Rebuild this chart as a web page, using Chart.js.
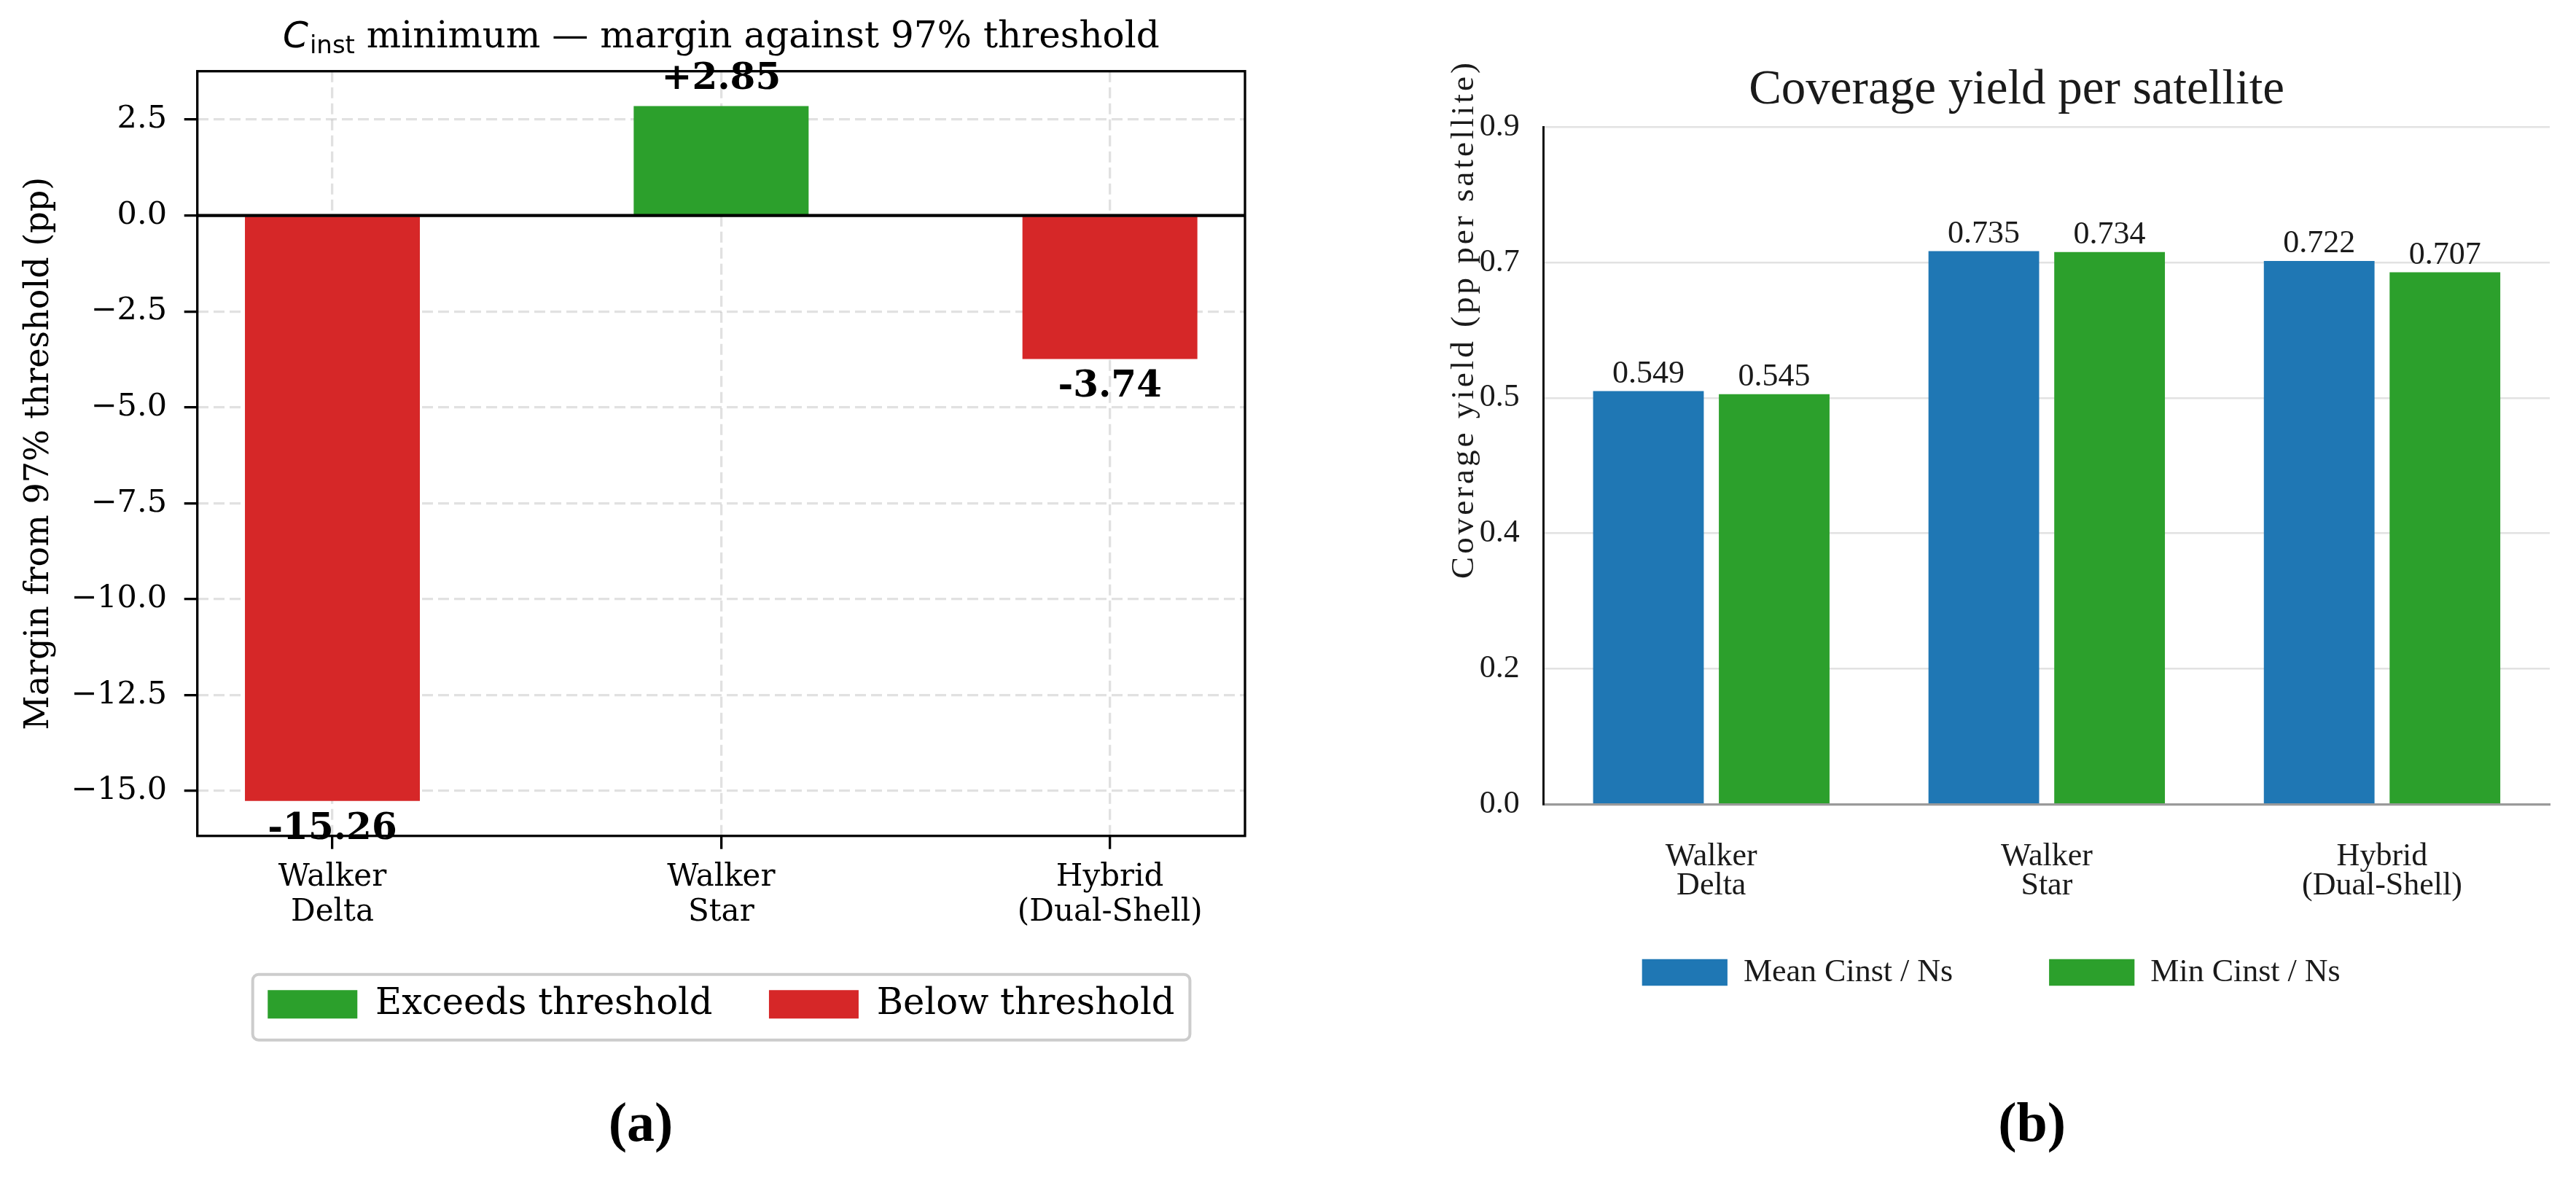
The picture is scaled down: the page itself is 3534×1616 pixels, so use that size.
<!DOCTYPE html>
<html><head><meta charset="utf-8">
<script src="https://cdn.jsdelivr.net/npm/chart.js@4.4.1/dist/chart.umd.min.js"></script>
<style>
html,body{margin:0;padding:0;background:#fff;}
body{width:3534px;height:1616px;position:relative;overflow:hidden;}
canvas{position:absolute;top:0;}
#cA{left:0;} #cB{left:1900px;}
</style></head><body>
<canvas id="cA" width="1800" height="1616"></canvas>
<canvas id="cB" width="1634" height="1616"></canvas>
<script>
// ---------- data ----------
const categories = [['Walker','Delta'], ['Walker','Star'], ['Hybrid','(Dual-Shell)']];
const marginValues = [-15.26, 2.85, -3.74];
const marginTicks = [-15, -12.5, -10, -7.5, -5, -2.5, 0, 2.5];
const marginRange = [-16.17, 3.76];
const marginLegend = ['Exceeds threshold', 'Below threshold'];
const meanYield = [0.549, 0.735, 0.722];
const minYield = [0.545, 0.734, 0.707];
const yieldTicks = [0, 0.18, 0.36, 0.54, 0.72, 0.9];
const yieldSeries = ['Mean Cinst / Ns', 'Min Cinst / Ns'];

// ---------- styles ----------
const SERIF = "'DejaVu Serif', serif";
const TIMES = "'Liberation Serif', 'Times New Roman', serif";
const GREEN = '#2ca02c', RED = '#d62728', BLUE = '#1f77b4';
const GRID_A = 'rgba(176,176,176,0.38)';
const INK = '#1a1a1a';

// ---------- left chart ----------
const LEFT_LEGEND_LIFT = 12.1;
const leftPlugin = {
  id: 'leftDecor',
  afterLayout(chart) {
    chart.legend.top -= LEFT_LEGEND_LIFT;
    chart.legend.bottom -= LEFT_LEGEND_LIFT;
  },
  afterDraw(chart) {
    const {ctx, chartArea: a, scales: {y}} = chart;
    ctx.save();
    // zero line
    const y0 = y.getPixelForValue(0);
    ctx.strokeStyle = '#000'; ctx.lineWidth = 4.2; ctx.setLineDash([]);
    ctx.beginPath(); ctx.moveTo(a.left, y0); ctx.lineTo(a.right, y0); ctx.stroke();
    // frame
    ctx.lineWidth = 3.3;
    ctx.strokeRect(a.left, a.top, a.right - a.left, a.bottom - a.top);
    // value labels
    ctx.font = `bold 50px ${SERIF}`; ctx.fillStyle = '#000';
    ctx.textAlign = 'center'; ctx.textBaseline = 'alphabetic';
    chart.getDatasetMeta(0).data.forEach((bar, i) => {
      const v = marginValues[i];
      const txt = (v >= 0 ? '+' : '') + v.toFixed(2);
      ctx.fillText(txt, bar.x, v >= 0 ? bar.y - 24 : bar.y + 52);
    });
    // title with subscript
    const base = 65;
    const fC = `italic 50px 'DejaVu Sans'`, fSub = `34px 'DejaVu Sans'`, fMain = `50px ${SERIF}`;
    const rest = ' minimum \u2014 margin against 97% threshold';
    ctx.textAlign = 'left';
    ctx.font = fC; const wC = ctx.measureText('C').width;
    ctx.font = fSub; const wS = ctx.measureText('inst').width;
    ctx.font = fMain; const wR = ctx.measureText(rest).width;
    let x = (a.left + a.right) / 2 - (wC + 2 + wS + wR) / 2;
    ctx.font = fC; ctx.fillText('C', x, base); x += wC + 2;
    ctx.font = fSub; ctx.fillText('inst', x, base + 8); x += wS;
    ctx.font = fMain; ctx.fillText(rest, x, base);
    // legend frame
    const lg = chart.legend, hb = lg.legendHitBoxes;
    if (hb && hb.length) {
      const itemTop = lg.top + lg.options.labels.padding;
      const L = hb[0].left - 20.6, R = hb[hb.length - 1].left + hb[hb.length - 1].width + 21;
      const T = itemTop - 16.3, B = itemTop + 73.7;
      ctx.strokeStyle = 'rgba(204,204,204,1)'; ctx.lineWidth = 4;
      ctx.beginPath(); ctx.roundRect(L, T, R - L, B - T, 8); ctx.stroke();
    }
    // panel label
    ctx.fillStyle = '#000'; ctx.textAlign = 'center';
    ctx.font = `bold 76px 'Liberation Serif', serif`;
    ctx.fillText('(a)', 879, 1565);
    ctx.restore();
  }
};

new Chart(document.getElementById('cA'), {
  type: 'bar',
  data: {
    datasets: [{
      data: marginValues.map((v, i) => ({x: i, y: v})),
      backgroundColor: marginValues.map(v => v >= 0 ? GREEN : RED),
      borderWidth: 0, categoryPercentage: 1, barPercentage: 0.45
    }]
  },
  options: {
    responsive: false, animation: false, devicePixelRatio: 1,
    layout: {padding: {left: 0, top: 97.7, right: 92, bottom: 191.4}},
    plugins: {
      tooltip: {enabled: false},
      legend: {
        position: 'bottom', fullSize: false,
        labels: {
          boxWidth: 123, boxHeight: 39, padding: 77.4, color: '#000',
          font: {family: SERIF, size: 49.5},
          generateLabels: () => marginLegend.map((t, i) => ({
            text: t, fillStyle: i === 0 ? GREEN : RED, strokeStyle: i === 0 ? GREEN : RED,
            lineWidth: 0, hidden: false, datasetIndex: 0
          }))
        }
      }
    },
    scales: {
      x: {
        type: 'linear', min: -0.3475, max: 2.3475, offset: false, z: 1,
        afterBuildTicks: s => { s.ticks = categories.map((_, i) => ({value: i})); },
        afterFit: s => { s.height = 141; },
        ticks: {
          callback: v => categories[v], autoSkip: false, maxRotation: 0, minRotation: 0,
          color: '#000', padding: 15, font: {family: SERIF, size: 42, lineHeight: 1.152}
        },
        grid: {
          offset: false, color: GRID_A, lineWidth: 3.3,
          tickColor: '#000', tickLength: 18, tickWidth: 3.3, tickBorderDash: []
        },
        border: {display: false, dash: [15, 7]}
      },
      y: {
        min: marginRange[0], max: marginRange[1], z: 1,
        afterBuildTicks: s => { s.ticks = marginTicks.map(v => ({value: v})); },
        afterFit: s => { s.width = 270.7; },
        ticks: {
          callback: v => (v < 0 ? '\u2212' : '') + Math.abs(v).toFixed(1),
          color: '#000', padding: 23.7, font: {family: SERIF, size: 43}
        },
        grid: {
          color: GRID_A, lineWidth: 3.3,
          tickColor: '#000', tickLength: 18, tickWidth: 3.3, tickBorderDash: []
        },
        border: {display: false, dash: [15, 7]},
        title: {
          display: true, text: 'Margin from 97% threshold (pp)', color: '#000',
          font: {family: SERIF, size: 46}, padding: {top: 26, bottom: 0}
        }
      }
    }
  },
  plugins: [leftPlugin]
});

// ---------- right chart ----------
function spacedText(ctx, text, cx, cy, spacing) {
  const chars = [...text];
  const widths = chars.map(ch => ctx.measureText(ch).width);
  const total = widths.reduce((p, q) => p + q, 0) + spacing * (chars.length - 1);
  let x = cx - total / 2;
  ctx.textAlign = 'left';
  chars.forEach((ch, i) => { ctx.fillText(ch, x, cy); x += widths[i] + spacing; });
}

const LEGEND_LIFT = 65.3;
const rightPlugin = {
  id: 'rightDecor',
  afterLayout(chart) {
    // pull the legend up so it sits closer to the tick labels
    chart.legend.top -= LEGEND_LIFT;
    chart.legend.bottom -= LEGEND_LIFT;
  },
  afterDatasetsDraw(chart) {
    const {ctx} = chart;
    ctx.save();
    ctx.font = `44px ${TIMES}`; ctx.fillStyle = INK;
    ctx.textAlign = 'center'; ctx.textBaseline = 'alphabetic';
    chart.data.datasets.forEach((ds, di) => {
      chart.getDatasetMeta(di).data.forEach((bar, i) => {
        ctx.fillText(ds.data[i].toFixed(3), bar.x, bar.y - 12);
      });
    });
    ctx.restore();
  },
  afterDraw(chart) {
    const {ctx} = chart;
    ctx.save();
    ctx.fillStyle = INK; ctx.textBaseline = 'alphabetic';
    // title
    ctx.textAlign = 'center';
    ctx.font = `67px ${TIMES}`;
    ctx.fillText('Coverage yield per satellite', 866.6, 141.7);
    // y title (rotated)
    ctx.save();
    ctx.translate(121, 440); ctx.rotate(-Math.PI / 2);
    ctx.font = `45px ${TIMES}`;
    spacedText(ctx, 'Coverage yield (pp per satellite)', 0, 0, 4);
    ctx.restore();
    // panel label
    ctx.fillStyle = '#000'; ctx.textAlign = 'center';
    ctx.font = `bold 76px 'Liberation Serif', serif`;
    ctx.fillText('(b)', 887.6, 1565);
    ctx.restore();
  }
};

new Chart(document.getElementById('cB'), {
  type: 'bar',
  data: {
    labels: categories,
    datasets: [
      {label: yieldSeries[0], data: meanYield, backgroundColor: BLUE, borderWidth: 0,
       categoryPercentage: 0.75, barPercentage: 0.88},
      {label: yieldSeries[1], data: minYield, backgroundColor: GREEN, borderWidth: 0,
       categoryPercentage: 0.75, barPercentage: 0.88}
    ]
  },
  options: {
    responsive: false, animation: false, devicePixelRatio: 1,
    layout: {padding: {left: 65.4, top: 174.3, right: 36, bottom: 184.7}},
    plugins: {
      tooltip: {enabled: false},
      legend: {
        position: 'bottom',
        labels: {boxWidth: 117.2, boxHeight: 36.7, padding: 132, color: INK,
                 font: {family: TIMES, size: 44}}
      }
    },
    scales: {
      x: {
        afterFit: s => { s.height = 142; },
        ticks: {color: INK, padding: 51.5, autoSkip: false, maxRotation: 0, minRotation: 0,
                font: {family: TIMES, size: 44, lineHeight: 0.925}},
        grid: {display: false, drawTicks: false},
        border: {display: true, color: '#9a9a9a', width: 3.3}
      },
      y: {
        min: 0, max: 0.9,
        afterBuildTicks: s => { s.ticks = yieldTicks.map(v => ({value: v})); },
        afterFit: s => { s.width = 152.3; },
        ticks: {callback: v => v.toFixed(1), color: INK, padding: 33,
                font: {family: TIMES, size: 44}},
        grid: {color: '#e2e2e2', lineWidth: 2.5, drawTicks: false},
        border: {display: true, color: '#111', width: 3}
      }
    }
  },
  plugins: [rightPlugin]
});
</script>
</body></html>
